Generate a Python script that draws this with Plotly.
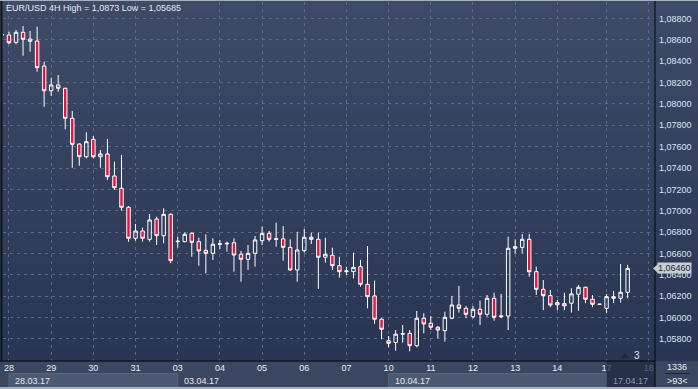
import plotly.graph_objects as go

# ---------------- data ----------------
days = ["28.03", "29.03", "30.03", "31.03", "03.04", "04.04", "05.04",
        "06.04", "07.04", "10.04", "11.04", "12.04", "13.04", "14.04"]
times = (["27.03 20:00"]
         + [f"{d} {h:02d}:00" for d in days for h in range(0, 24, 4)]
         + ["16.04 20:00"]
         + [f"17.04 {h:02d}:00" for h in (0, 4, 8, 12)])

opens = [1.08650, 1.08646, 1.08577, 1.08671, 1.08608, 1.08589, 1.08355, 1.08124, 1.08178, 1.08147,
         1.07866, 1.07625, 1.07506, 1.07669, 1.07506, 1.07532, 1.07326, 1.07211, 1.07033, 1.06743,
         1.06811, 1.06733, 1.06923, 1.06767, 1.06967, 1.06711, 1.06711, 1.06790, 1.06711, 1.06630,
         1.06602, 1.06687, 1.06690, 1.06701, 1.06593, 1.06546, 1.06602, 1.06720, 1.06789, 1.06733,
         1.06737, 1.06658, 1.06446, 1.06627, 1.06752, 1.06733, 1.06565, 1.06584, 1.06486, 1.06430,
         1.06430, 1.06477, 1.06312, 1.06203, 1.05985, 1.05784, 1.05767, 1.05845, 1.05853, 1.05737,
         1.05994, 1.05947, 1.05910, 1.05878, 1.05994, 1.06118, 1.06087, 1.06009, 1.06078, 1.06031,
         1.06181, 1.06009, 1.06015, 1.06649, 1.06658, 1.06733, 1.06430, 1.06265, 1.06206, 1.06141,
         1.06132, 1.06135, 1.06219, 1.06284, 1.06172, 1.06125, 1.06087, 1.06196, 1.06181, 1.06237]
highs = [1.08660, 1.08676, 1.08692, 1.08730, 1.08683, 1.08723, 1.08396, 1.08246, 1.08271, 1.08152,
         1.07934, 1.07630, 1.07735, 1.07700, 1.07569, 1.07672, 1.07460, 1.07522, 1.07045, 1.06877,
         1.06842, 1.06970, 1.06945, 1.07023, 1.06977, 1.06758, 1.06799, 1.06799, 1.06748, 1.06780,
         1.06743, 1.06727, 1.06711, 1.06743, 1.06624, 1.06680, 1.06764, 1.06851, 1.06811, 1.06889,
         1.06858, 1.06733, 1.06804, 1.06830, 1.06795, 1.06795, 1.06748, 1.06655, 1.06570, 1.06477,
         1.06608, 1.06540, 1.06670, 1.06346, 1.05995, 1.05828, 1.05884, 1.05931, 1.05884, 1.06062,
         1.06041, 1.06015, 1.05922, 1.06056, 1.06203, 1.06297, 1.06109, 1.06109, 1.06159, 1.06212,
         1.06233, 1.06222, 1.06758, 1.06733, 1.06783, 1.06783, 1.06477, 1.06352, 1.06259, 1.06166,
         1.06233, 1.06275, 1.06306, 1.06290, 1.06212, 1.06126, 1.06222, 1.06250, 1.06502, 1.06493]
lows = [1.08636, 1.08559, 1.08559, 1.08452, 1.08489, 1.08302, 1.07974, 1.08075, 1.08115, 1.07763,
        1.07403, 1.07422, 1.07491, 1.07491, 1.07403, 1.07288, 1.07195, 1.07001, 1.06711, 1.06720,
        1.06711, 1.06711, 1.06680, 1.06696, 1.06509, 1.06655, 1.06705, 1.06570, 1.06486, 1.06415,
        1.06540, 1.06643, 1.06618, 1.06430, 1.06336, 1.06446, 1.06477, 1.06680, 1.06711, 1.06664,
        1.06533, 1.06437, 1.06336, 1.06608, 1.06689, 1.06268, 1.06514, 1.06446, 1.06374, 1.06399,
        1.06368, 1.06290, 1.06087, 1.05941, 1.05797, 1.05722, 1.05690, 1.05766, 1.05685, 1.05722,
        1.05853, 1.05884, 1.05807, 1.05775, 1.05985, 1.06047, 1.05994, 1.05994, 1.05931, 1.06009,
        1.05971, 1.05994, 1.05884, 1.06602, 1.06602, 1.06383, 1.06212, 1.06070, 1.06097, 1.06070,
        1.06070, 1.06047, 1.06064, 1.06135, 1.06097, 1.06124, 1.06041, 1.06135, 1.06141, 1.06181]
closes = [1.08646, 1.08573, 1.08671, 1.08605, 1.08587, 1.08340, 1.08124, 1.08178, 1.08147, 1.07866,
          1.07622, 1.07506, 1.07647, 1.07506, 1.07532, 1.07319, 1.07216, 1.07033, 1.06743, 1.06811,
          1.06743, 1.06914, 1.06767, 1.06967, 1.06533, 1.06715, 1.06780, 1.06705, 1.06624, 1.06602,
          1.06687, 1.06690, 1.06696, 1.06586, 1.06546, 1.06602, 1.06727, 1.06789, 1.06733, 1.06737,
          1.06658, 1.06446, 1.06633, 1.06752, 1.06733, 1.06565, 1.06593, 1.06486, 1.06430, 1.06437,
          1.06471, 1.06312, 1.06196, 1.05985, 1.05891, 1.05760, 1.05845, 1.05850, 1.05737, 1.05994,
          1.05941, 1.05910, 1.05884, 1.06003, 1.06118, 1.06087, 1.06031, 1.06078, 1.06031, 1.06181,
          1.06003, 1.06015, 1.06649, 1.06664, 1.06733, 1.06430, 1.06265, 1.06206, 1.06118, 1.06120,
          1.06110, 1.06222, 1.06284, 1.06172, 1.06125, 1.06125, 1.06196, 1.06181, 1.06237, 1.06460]

day_labels = ["28", "29", "30", "31", "03", "04", "05", "06", "07", "10", "11", "12", "13", "14", "17", "18"]
week_labels = ["28.03.17", "03.04.17", "10.04.17", "17.04.17"]
week_starts = ["28.03", "03.04", "10.04", "17.04"]
y_ticks = [1.058, 1.060, 1.062, 1.064, 1.066, 1.068, 1.070, 1.072, 1.074,
           1.076, 1.078, 1.080, 1.082, 1.084, 1.086, 1.088]
title_text = "EUR/USD 4H High = 1,0873 Low = 1,05685"
info_top, info_bottom, marker_count = "1336", ">93<", "3"

# ---------------- layout geometry ----------------
W, H = 698, 389
ML, MR, MT, MB = 3, 43, 2, 28
PW, PH = W - ML - MR, H - MT - MB
X_RANGE = [0.148, 92.89]
Y_RANGE = [1.055939, 1.089545]

xs = list(range(len(times)))
tick_pos = [times.index(f"{d} 00:00") for d in days] + [times.index("17.04 00:00")]
tick_pos.append(tick_pos[-1] + 6)
week_pos = [times.index(f"{w} 00:00") for w in week_starts]


def fx(px):  # pixel -> paper x
    return (px - ML) / PW


def fy(py):  # pixel -> paper y
    return (MT + PH - py) / PH


def ix(i):  # data index -> paper x
    return (i - X_RANGE[0]) / (X_RANGE[1] - X_RANGE[0])


fmt = lambda v: f"{v:.5f}".replace(".", ",")

fig = go.Figure()
fig.add_trace(go.Candlestick(
    x=xs, open=opens, high=highs, low=lows, close=closes,
    hovertext=times, hoverinfo="text",
    increasing=dict(line=dict(color="#ffffff", width=1), fillcolor="rgba(0,0,0,0)"),
    decreasing=dict(line=dict(color="#ffffff", width=1), fillcolor="#e0173f"),
    whiskerwidth=0, showlegend=False,
))

shapes = []
# vertical gradient background (plot + right axis)
N = 30
top, bot = (62, 74, 102), (41, 53, 83)
for k in range(N):
    t = k / (N - 1)
    c = tuple(round(top[j] + (bot[j] - top[j]) * t) for j in range(3))
    y0 = MT - 2 + (PH + 2) * k / N
    y1 = MT - 2 + (PH + 2) * (k + 1) / N
    shapes.append(dict(type="rect", xref="paper", yref="paper", layer="below",
                       x0=fx(0), x1=fx(W), y0=fy(y1) - 0.001, y1=fy(y0),
                       fillcolor="rgb(%d,%d,%d)" % c, line=dict(width=0)))
# week boxes on the date row
strip_y0, strip_y1 = fy(387), fy(373.5)
for wi in (0, 2):
    shapes.append(dict(type="rect", xref="paper", yref="paper", layer="below",
                       x0=ix(week_pos[wi]), x1=ix(week_pos[wi + 1]), y0=strip_y0, y1=strip_y1,
                       fillcolor="rgb(76,89,114)", line=dict(color="rgb(88,101,126)", width=1)))
# current week dark box (above)
shapes.append(dict(type="rect", xref="paper", yref="paper", layer="above",
                   x0=ix(week_pos[3]), x1=1, y0=fy(387.5), y1=0,
                   fillcolor="rgba(30,40,64,0.72)", line=dict(width=0)))
# separator lines
shapes.append(dict(type="line", xref="paper", yref="paper", layer="above",
                   x0=1, x1=1, y0=fy(H), y1=fy(0), line=dict(color="#05070c", width=1)))
shapes.append(dict(type="line", xref="paper", yref="paper", layer="above",
                   x0=fx(0), x1=1, y0=0, y1=0, line=dict(color="#05070c", width=1)))
shapes.append(dict(type="line", xref="paper", yref="paper", layer="above",
                   x0=fx(1.5), x1=fx(1.5), y0=0, y1=fy(0), line=dict(color="#10141c", width=2)))
# outer light frame
shapes.append(dict(type="line", xref="paper", yref="paper", layer="above",
                   x0=fx(0), x1=fx(W), y0=fy(0.5), y1=fy(0.5), line=dict(color="#a9b0bc", width=1)))
shapes.append(dict(type="line", xref="paper", yref="paper", layer="above",
                   x0=fx(0), x1=fx(W), y0=fy(388), y1=fy(388), line=dict(color="#a9b0bc", width=2)))
# info separator (bottom right)
shapes.append(dict(type="line", xref="paper", yref="paper", layer="above",
                   x0=fx(665), x1=fx(690), y0=fy(373.5), y1=fy(373.5), line=dict(color="#1c2436", width=1)))
# small triangle before count
shapes.append(dict(type="path", xref="paper", yref="paper", layer="above",
                   path=f"M {fx(621)},{fy(358)} L {fx(629)},{fy(358)} L {fx(625)},{fy(353)} Z",
                   fillcolor="#1e2638", line=dict(width=0)))
# current price marker arrow
last = closes[-1]
hh = 4.6 / PH * (Y_RANGE[1] - Y_RANGE[0])
shapes.append(dict(type="path", xref="paper", yref="y", layer="above",
                   path=f"M {fx(653)},{last} L {fx(658)},{last + hh} L {fx(658)},{last - hh} Z",
                   fillcolor="#c8ccd3", line=dict(width=0)))

font = "Liberation Sans, Arial, sans-serif"
ann = [
    dict(text=title_text, xref="paper", yref="paper", x=fx(4), y=fy(8), xanchor="left",
         yanchor="middle", showarrow=False, font=dict(family=font, size=9, color="#e4e9f2")),
    dict(text=fmt(last), xref="paper", yref="y", x=fx(657), y=last, xanchor="left",
         yanchor="middle", showarrow=False, bgcolor="#c8ccd3", borderpad=0,
         font=dict(family=font, size=9, color="#262a33")),
    dict(text=marker_count, xref="paper", yref="paper", x=fx(632), y=fy(355), xanchor="left",
         yanchor="middle", showarrow=False, font=dict(family=font, size=10, color="#dce6f5")),
    dict(text=info_top, xref="paper", yref="paper", x=fx(677), y=fy(367), xanchor="center",
         yanchor="middle", showarrow=False, font=dict(family=font, size=9, color="#e6ebf3")),
    dict(text=info_bottom, xref="paper", yref="paper", x=fx(677), y=fy(381), xanchor="center",
         yanchor="middle", showarrow=False, font=dict(family=font, size=9, color="#e6ebf3")),
]
for wi, lab in enumerate(week_labels):
    ann.append(dict(text=lab, xref="paper", yref="paper", x=ix(week_pos[wi]), xshift=4,
                    y=fy(380.5), xanchor="left", yanchor="middle", showarrow=False,
                    font=dict(family=font, size=9, color="#8c95a6" if wi == 3 else "#e2e7ef")))

grid = dict(showgrid=True, gridcolor="rgba(98,112,142,0.85)", gridwidth=1, griddash="3px,4px",
            zeroline=False, showline=False, ticks="", fixedrange=True)
fig.update_layout(
    width=W, height=H, margin=dict(l=ML, r=MR, t=MT, b=MB, pad=0),
    paper_bgcolor="rgb(59,71,96)", plot_bgcolor="rgba(0,0,0,0)",
    xaxis=dict(range=X_RANGE, tickvals=tick_pos, ticktext=day_labels,
               tickfont=dict(family=font, size=9, color="#e8edf6"),
               rangeslider=dict(visible=False), **grid),
    yaxis=dict(range=Y_RANGE, side="right", tickvals=y_ticks, ticktext=[fmt(v) for v in y_ticks],
               tickfont=dict(family=font, size=9, color="#d9e4f4"), ticklabelstandoff=3, **grid),
    shapes=shapes, annotations=ann, showlegend=False,
)
fig.write_html("out.html", config={"displayModeBar": False},
               post_script="document.body.style.margin='0';document.body.style.overflow='hidden';")
